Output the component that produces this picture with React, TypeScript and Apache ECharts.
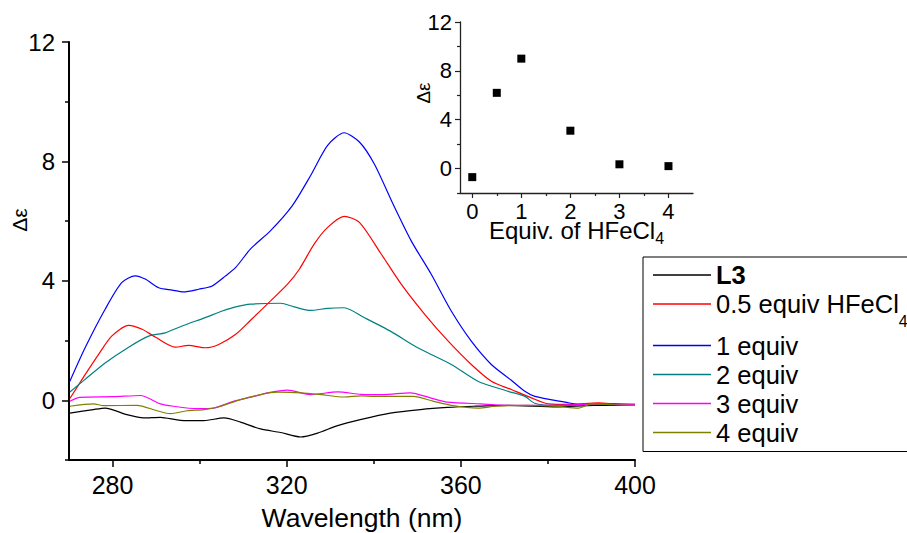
import React, { useEffect, useRef } from 'react';
import * as echarts from 'echarts';

const FONT = '"Liberation Sans", Arial, Helvetica, sans-serif';

// ---- Main CD spectra (wavelength nm, delta epsilon) ----
const L3_WL = [270.2, 275.6, 278.3, 283.3, 287.1, 291, 295.6, 301, 305.6, 309.4, 314, 318.6, 323.2, 327.1, 331.7, 336.9, 343.8, 350.7, 356.9, 363, 370.6, 382.1, 390.6, 400];
const L3_DE = [-0.43, -0.31, -0.26, -0.48, -0.59, -0.57, -0.67, -0.68, -0.59, -0.73, -0.96, -1.08, -1.23, -1.1, -0.85, -0.65, -0.43, -0.31, -0.24, -0.2, -0.17, -0.22, -0.17, -0.17];

const EQ05_WL = [270.2, 273.7, 276.8, 279.8, 283.7, 286.8, 289.8, 294.4, 297.5, 301.3, 304.4, 308.3, 311.7, 316.3, 320.2, 322.9, 326.3, 329.4, 333.2, 336.7, 341.7, 346.3, 351.7, 357.1, 362.4, 367, 371.6, 376.2, 380.1, 385, 391.6, 395, 400];
const EQ05_DE = [0.06, 0.86, 1.54, 2.15, 2.51, 2.38, 2.12, 1.78, 1.84, 1.76, 1.87, 2.21, 2.68, 3.33, 3.89, 4.39, 5.23, 5.79, 6.16, 5.96, 4.9, 3.89, 2.88, 1.98, 1.2, 0.64, 0.36, 0.08, -0.12, -0.14, -0.09, -0.12, -0.17];

const EQ1_WL = [270.2, 273.7, 278.3, 282.1, 285.2, 287.5, 290.6, 293.7, 296.3, 299.8, 302.9, 306, 308.3, 311.7, 316.3, 321.3, 325.5, 329.4, 333.2, 336.7, 340.1, 344.4, 348.6, 353.2, 357.8, 362.4, 367, 371.6, 374.7, 377, 383.9, 388.6, 391.6, 395, 400];
const EQ1_DE = [0.64, 1.76, 3.05, 3.94, 4.17, 4.06, 3.77, 3.69, 3.63, 3.72, 3.83, 4.17, 4.45, 5.07, 5.68, 6.52, 7.53, 8.54, 8.96, 8.65, 7.92, 6.58, 5.34, 4.22, 2.99, 1.98, 1.2, 0.67, 0.3, 0.13, -0.06, -0.17, -0.12, -0.12, -0.14];

const EQ2_WL = [270.2, 273.7, 278.3, 283.7, 288.3, 292.1, 296, 301.3, 305.2, 308.3, 311.7, 318.6, 321.7, 325.5, 329.4, 333.2, 337.8, 344, 350.1, 357.8, 363.9, 370.9, 374.7, 377, 381, 386, 392, 400];
const EQ2_DE = [0.28, 0.7, 1.25, 1.78, 2.15, 2.26, 2.49, 2.77, 2.99, 3.13, 3.22, 3.25, 3.13, 3.01, 3.08, 3.1, 2.77, 2.3, 1.76, 1.2, 0.64, 0.3, 0.13, -0.1, -0.17, -0.17, -0.13, -0.17];

const EQ3_WL = [270.2, 272.5, 280.2, 286.4, 291, 294, 299.4, 303.3, 307.9, 312.5, 315.6, 320.2, 325.5, 331.7, 337.1, 342.2, 348.4, 353, 356.9, 364.5, 372, 380, 386, 391.6, 400];
const EQ3_DE = [-0.03, 0.1, 0.12, 0.16, -0.12, -0.2, -0.28, -0.26, -0.03, 0.13, 0.25, 0.34, 0.19, 0.28, 0.2, 0.19, 0.25, 0.08, -0.06, -0.12, -0.17, -0.17, -0.15, -0.12, -0.14];

const EQ4_WL = [270.2, 275.6, 278, 285.6, 290.2, 293.3, 297.1, 301, 304.8, 309.4, 314, 317.9, 323.2, 327.9, 333.2, 337.1, 340, 349.1, 353.6, 357.8, 364, 368, 375, 382, 387, 390, 395, 400];
const EQ4_DE = [-0.2, -0.12, -0.18, -0.17, -0.35, -0.45, -0.35, -0.31, -0.2, 0.02, 0.19, 0.27, 0.25, 0.19, 0.11, 0.15, 0.13, 0.13, -0.03, -0.17, -0.26, -0.2, -0.17, -0.2, -0.26, -0.12, -0.15, -0.17];

const SERIES_NAMES = ['L3', '0.5 equiv HFeCl4', '1 equiv', '2 equiv', '3 equiv', '4 equiv'];
const SERIES_COLORS = ['#000000', '#FF0000', '#0000FF', '#008080', '#FF00FF', '#808000'];
const SERIES_WL = [L3_WL, EQ05_WL, EQ1_WL, EQ2_WL, EQ3_WL, EQ4_WL];
const SERIES_DE = [L3_DE, EQ05_DE, EQ1_DE, EQ2_DE, EQ3_DE, EQ4_DE];

const X_TICKS = [280, 320, 360, 400];
const X_MINOR = [300, 340, 380];
const Y_TICKS = [0, 4, 8, 12];
const Y_MINOR = [-2, 2, 6, 10];

// ---- Inset: delta epsilon vs equivalents ----
const INSET_EQUIV = [0, 0.5, 1, 2, 3, 4];
const INSET_DE = [-0.7, 6.2, 9.0, 3.1, 0.35, 0.2];
const INSET_X_TICKS = [0, 1, 2, 3, 4];
const INSET_X_MINOR = [0.5, 1.5, 2.5, 3.5];
const INSET_Y_TICKS = [0, 4, 8, 12];
const INSET_Y_MINOR = [-2, 2, 6, 10];

const zip = (a: number[], b: number[]) => a.map((v, i) => [v, b[i]]);

export default function App() {
  const ref = useRef<HTMLDivElement>(null);
  useEffect(() => {
    document.body.style.margin = '0';
    if (!ref.current) return;
    const chart = echarts.init(ref.current, null, { renderer: 'svg' });
    const black = '#000';
    const legendRich = {
      b: { fontWeight: 'bold', fontSize: 25.5, fontFamily: FONT, color: black },
      sub: { fontSize: 16, fontFamily: FONT, color: black, verticalAlign: 'bottom', padding: [35, 0, 0, 0] },
    };
    const option: any = {
      animation: false,
      backgroundColor: '#fff',
      textStyle: { fontFamily: FONT },
      grid: [
        { left: 69, top: 42, width: 566, height: 418, outerBoundsMode: 'none', containLabel: false },
        { left: 460, top: 22, width: 233, height: 171, outerBoundsMode: 'none', containLabel: false },
      ],
      legend: {
        orient: 'vertical',
        left: 643,
        top: 257,
        data: SERIES_NAMES,
        icon: 'rect',
        itemWidth: 58,
        itemHeight: 1.5,
        itemGap: 3,
        padding: [5, 10, 6, 10],
        borderColor: black,
        borderWidth: 1,
        backgroundColor: '#fff',
        textStyle: { fontSize: 25.5, fontFamily: FONT, color: black, rich: legendRich },
        formatter: (name: string) => {
          if (name === 'L3') return '{b|L3}';
          if (name === '0.5 equiv HFeCl4') return '0.5 equiv HFeCl{sub|4}';
          return name;
        },
      },
      xAxis: [
        {
          type: 'value', gridIndex: 0, min: 270, max: 400, position: 'bottom',
          axisLine: { onZero: false, lineStyle: { color: black, width: 2 } },
          axisTick: { customValues: X_TICKS, length: 7, inside: false, lineStyle: { color: black, width: 1.5 } },
          axisLabel: { customValues: X_TICKS, fontSize: 25, margin: 12, color: black, fontFamily: FONT },
          splitLine: { show: false },
          name: 'Wavelength (nm)', nameLocation: 'middle', nameGap: 44, nameMoveOverlap: false,
          nameTextStyle: { fontSize: 26.5, color: black, fontFamily: FONT, padding: [0, 0, 0, 20] },
        },
        {
          type: 'value', gridIndex: 0, min: 270, max: 400, position: 'bottom',
          axisLine: { show: false, onZero: false },
          axisTick: { customValues: X_MINOR, length: 4, lineStyle: { color: black, width: 1.5 } },
          axisLabel: { show: false },
          splitLine: { show: false },
        },
        {
          type: 'value', gridIndex: 1, min: -0.25, max: 4.5, position: 'bottom',
          axisLine: { onZero: false, lineStyle: { color: '#222', width: 1.3 } },
          axisTick: { customValues: INSET_X_TICKS, length: 5, lineStyle: { color: '#222', width: 1.2 } },
          axisLabel: { customValues: INSET_X_TICKS, fontSize: 22, margin: 7, color: black, fontFamily: FONT },
          splitLine: { show: false },
          name: 'Equiv. of HFeCl{sub|4}', nameLocation: 'middle', nameGap: 21, nameMoveOverlap: false,
          nameTextStyle: {
            fontSize: 24, color: black, fontFamily: FONT,
            rich: { sub: { fontSize: 16, fontFamily: FONT, color: black, verticalAlign: 'bottom', padding: [16, 0, 0, 0] } },
          },
        },
        {
          type: 'value', gridIndex: 1, min: -0.25, max: 4.5, position: 'bottom',
          axisLine: { show: false, onZero: false },
          axisTick: { customValues: INSET_X_MINOR, length: 3, lineStyle: { color: '#222', width: 1.2 } },
          axisLabel: { show: false },
          splitLine: { show: false },
        },
      ],
      yAxis: [
        {
          type: 'value', gridIndex: 0, min: -2, max: 12, position: 'left',
          axisLine: { show: true, onZero: false, lineStyle: { color: black, width: 2 } },
          axisTick: { show: true, customValues: Y_TICKS, length: 7, lineStyle: { color: black, width: 1.5 } },
          axisLabel: { customValues: Y_TICKS, fontSize: 24, margin: 14, color: black, fontFamily: FONT },
          splitLine: { show: false },
          name: 'Δε', nameLocation: 'middle', nameRotate: 90, nameGap: 39, nameMoveOverlap: false,
          nameTextStyle: { fontSize: 21, color: black, fontFamily: FONT, padding: [0, 0, 0, 62] },
        },
        {
          type: 'value', gridIndex: 0, min: -2, max: 12, position: 'left',
          axisLine: { show: false, onZero: false },
          axisTick: { show: true, customValues: Y_MINOR, length: 4, lineStyle: { color: black, width: 1.5 } },
          axisLabel: { show: false },
          splitLine: { show: false },
        },
        {
          type: 'value', gridIndex: 1, min: -2, max: 12, position: 'left',
          axisLine: { show: true, onZero: false, lineStyle: { color: '#222', width: 1.3 } },
          axisTick: { show: true, customValues: INSET_Y_TICKS, length: 5, lineStyle: { color: '#222', width: 1.2 } },
          axisLabel: { customValues: INSET_Y_TICKS, fontSize: 22, margin: 8, color: black, fontFamily: FONT },
          splitLine: { show: false },
          name: 'Δε', nameLocation: 'middle', nameRotate: 90, nameGap: 27, nameMoveOverlap: false,
          nameTextStyle: { fontSize: 19, color: black, fontFamily: FONT, padding: [0, 0, 0, 29] },
        },
        {
          type: 'value', gridIndex: 1, min: -2, max: 12, position: 'left',
          axisLine: { show: false, onZero: false },
          axisTick: { show: true, customValues: INSET_Y_MINOR, length: 3, lineStyle: { color: '#222', width: 1.2 } },
          axisLabel: { show: false },
          splitLine: { show: false },
        },
      ],
      series: [
        ...SERIES_NAMES.map((name, i) => ({
          name,
          type: 'line',
          xAxisIndex: 0,
          yAxisIndex: 0,
          data: zip(SERIES_WL[i], SERIES_DE[i]),
          symbol: 'none',
          showSymbol: false,
          smooth: 0.25,
          color: SERIES_COLORS[i],
          itemStyle: { color: SERIES_COLORS[i] },
          lineStyle: { color: SERIES_COLORS[i], width: 1.2 },
        })),
        {
          name: 'inset',
          type: 'scatter',
          xAxisIndex: 2,
          yAxisIndex: 2,
          data: zip(INSET_EQUIV, INSET_DE),
          symbol: 'rect',
          symbolSize: 8,
          itemStyle: { color: black, opacity: 1 },
        },
      ],
    };
    chart.setOption(option);
    return () => chart.dispose();
  }, []);
  return <div ref={ref} style={{ width: 907, height: 533 }} />;
}
